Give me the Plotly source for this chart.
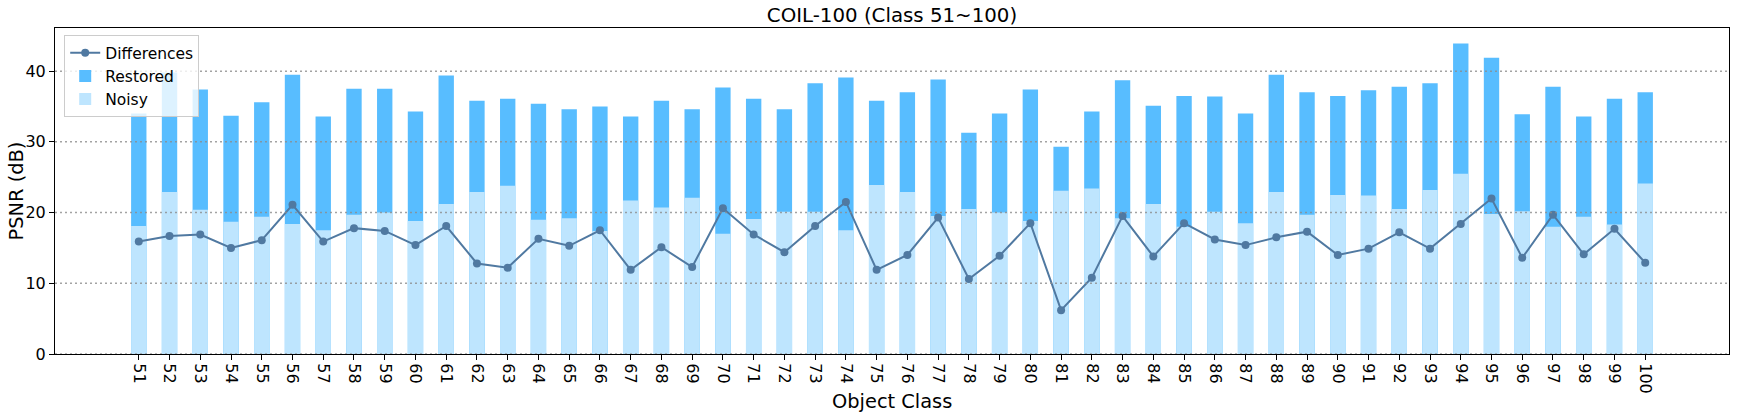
import plotly.graph_objects as go

classes = list(range(51, 101))
class_labels = [str(c) for c in classes]

restored = [34.0, 39.8, 37.4, 33.7, 35.6, 39.5, 33.6, 37.5, 37.5, 34.3,
            39.4, 35.8, 36.1, 35.4, 34.6, 35.0, 33.6, 35.8, 34.6, 37.7,
            36.1, 34.6, 38.3, 39.1, 35.8, 37.0, 38.8, 31.3, 34.0, 37.4,
            29.3, 34.3, 38.7, 35.1, 36.5, 36.4, 34.0, 39.5, 37.0, 36.5,
            37.3, 37.8, 38.3, 43.9, 41.9, 33.9, 37.8, 33.6, 36.1, 37.0]

noisy = [18.1, 22.9, 20.4, 18.7, 19.4, 18.4, 17.5, 19.7, 20.0, 18.8,
         21.2, 22.9, 23.8, 19.0, 19.2, 17.4, 21.7, 20.7, 22.1, 17.0,
         19.1, 20.1, 20.1, 17.5, 23.9, 22.9, 19.5, 20.5, 20.0, 18.8,
         23.1, 23.4, 19.2, 21.2, 18.0, 20.1, 18.5, 22.9, 19.7, 22.5,
         22.4, 20.5, 23.2, 25.5, 19.8, 20.2, 18.0, 19.4, 18.3, 24.1]

differences = [15.9, 16.7, 16.9, 15.0, 16.1, 21.1, 15.9, 17.8, 17.4, 15.4,
               18.1, 12.8, 12.2, 16.3, 15.3, 17.5, 11.9, 15.1, 12.3, 20.6,
               16.9, 14.4, 18.1, 21.5, 11.9, 14.0, 19.3, 10.6, 13.9, 18.5,
               6.2, 10.8, 19.5, 13.8, 18.5, 16.2, 15.4, 16.5, 17.3, 14.0,
               14.9, 17.2, 14.9, 18.4, 22.0, 13.6, 19.7, 14.1, 17.7, 12.9]

y_ticks = [0, 10, 20, 30, 40]

C_RESTORED = "#58BDFF"
C_NOISY = "#BEE5FE"
C_LINE = "#5079A1"
FONT = "DejaVu Sans"

W, H = 1737, 420
ML, MR, MT, MB = 55, 8, 28, 66

fig = go.Figure()
fig.add_trace(go.Bar(x=classes, y=restored, name="Restored", marker_color=C_RESTORED,
                     marker_line_width=0, width=0.5, legendrank=2))
fig.add_trace(go.Bar(x=classes, y=noisy, name="Noisy", marker_color=C_NOISY,
                     marker_line_width=0, width=0.5, legendrank=3))
fig.add_trace(go.Scatter(x=classes, y=differences, name="Differences", mode="lines+markers",
                         line=dict(color=C_LINE, width=2), marker=dict(color=C_LINE, size=8),
                         legendrank=1))

shapes = []
for v in y_ticks:
    shapes.append(dict(type="line", xref="paper", x0=0, x1=1, yref="y", y0=v, y1=v,
                       line=dict(color="rgba(140,140,140,0.8)", width=1.5, dash="2px,3px"),
                       layer="above"))

PH = H - MT - MB
PW = W - ML - MR
annotations = [
    dict(text="Object Class", xref="paper", x=0.5, xanchor="center",
         yref="paper", y=-(401 - (H - MB)) / PH, yanchor="middle",
         showarrow=False, font=dict(size=19.4, family=FONT, color="black")),
    dict(text="PSNR (dB)", xref="paper", x=-(ML - 15.5) / PW, xanchor="center",
         yref="paper", y=0.5, yanchor="middle", textangle=-90,
         showarrow=False, font=dict(size=19.4, family=FONT, color="black")),
]

fig.update_layout(
    width=W, height=H,
    margin=dict(l=ML, r=MR, t=MT, b=MB, autoexpand=False),
    paper_bgcolor="white", plot_bgcolor="white",
    barmode="overlay",
    font=dict(family=FONT, color="black", size=15),
    title=dict(text="COIL-100 (Class 51~100)", x=0.5, xref="paper", xanchor="center",
               y=1 - 15.5 / H, yref="container", yanchor="middle",
               font=dict(size=19.8, family=FONT, color="black")),
    legend=dict(x=0.0055, y=0.978, xanchor="left", yanchor="top",
                bgcolor="rgba(255,255,255,0.8)", bordercolor="#cccccc", borderwidth=1,
                font=dict(size=15.5, family=FONT), tracegroupgap=0),
    shapes=shapes,
    annotations=annotations,
    showlegend=True,
)

fig.update_xaxes(
    range=[48.275, 102.725], tickmode="array", tickvals=classes, ticktext=class_labels,
    tickangle=90, ticks="outside", ticklen=5, tickwidth=1, tickcolor="black",
    showline=True, linecolor="black", linewidth=1.1, mirror=True, showgrid=False,
    zeroline=False, tickfont=dict(size=16, family=FONT), automargin=False,
)
fig.update_yaxes(
    range=[0, 46.1], tickmode="array", tickvals=y_ticks, ticks="outside", ticklen=5,
    tickwidth=1, tickcolor="black", showline=True, linecolor="black", linewidth=1.1,
    mirror=True, showgrid=False, zeroline=False, tickfont=dict(size=16, family=FONT),
    automargin=False,
)

fig.write_html("out.html", config={"displayModeBar": False},
               post_script="document.body.style.margin='0';document.body.style.padding='0';")
